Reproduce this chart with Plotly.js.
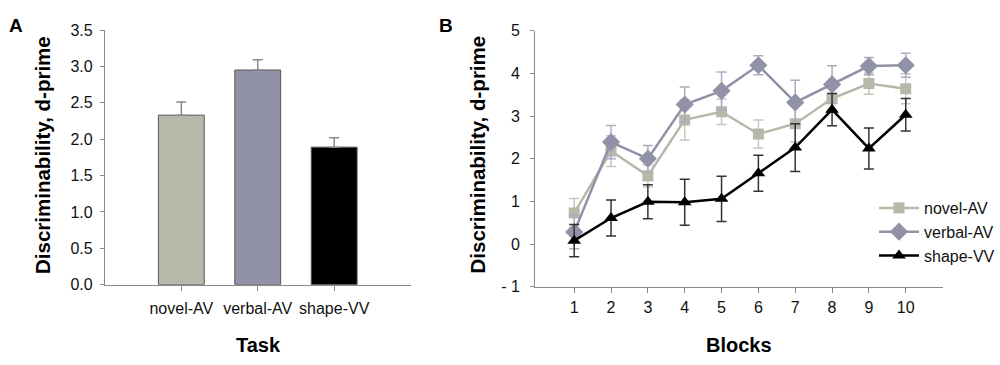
<!DOCTYPE html>
<html>
<head>
<meta charset="utf-8">
<script src="https://cdn.plot.ly/plotly-3.0.1.min.js"></script>
<style>html,body{margin:0;padding:0;background:#fff;}#chart{width:1000px;height:365px;}</style>
</head>
<body>
<div id="chart"></div>
<script>
// ---- Panel A data ----
const tasks = ["novel-AV", "verbal-AV", "shape-VV"];
const taskMeans = [2.33, 2.95, 1.89];
const taskErr = [0.18, 0.14, 0.13];
const taskColors = ["#b7b7aa", "#9191a8", "#000000"];

// ---- Panel B data ----
const blocks = [1, 2, 3, 4, 5, 6, 7, 8, 9, 10];
const novelAV = [0.73, 2.18, 1.60, 2.91, 3.10, 2.58, 2.82, 3.41, 3.76, 3.64];
const novelAVErr = [0.34, 0.36, 0.26, 0.47, 0.30, 0.33, 0.42, 0.12, 0.25, 0.35];
const verbalAV = [0.28, 2.39, 2.00, 3.27, 3.59, 4.19, 3.32, 3.74, 4.17, 4.19];
const verbalAVErr = [0.39, 0.39, 0.31, 0.41, 0.44, 0.22, 0.52, 0.44, 0.20, 0.28];
const shapeVV = [0.08, 0.61, 0.99, 0.98, 1.06, 1.66, 2.26, 3.15, 2.24, 3.03];
const shapeVVErr = [0.38, 0.42, 0.40, 0.54, 0.53, 0.42, 0.56, 0.38, 0.48, 0.38];
const yTicksB = [-1, 0, 1, 2, 3, 4, 5];
const yTickTextB = ["- 1", "0", "1", "2", "3", "4", "5"];

const FONT = "Liberation Sans, Arial, sans-serif";
const AXC = "#8a8a8a";

const traces = [
  {
    type: "bar", x: tasks, y: taskMeans, xaxis: "x", yaxis: "y",
    width: 0.6,
    marker: {color: taskColors, line: {color: "#555555", width: 1}},
    error_y: {type: "data", symmetric: false, array: taskErr, arrayminus: [0, 0, 0],
              color: "#8a8a8a", thickness: 1.5, width: 5},
    showlegend: false, hoverinfo: "x+y"
  },
  {
    type: "scatter", mode: "lines+markers", name: "novel-AV",
    x: blocks, y: novelAV, xaxis: "x2", yaxis: "y2",
    line: {color: "#b7b7aa", width: 2.5},
    marker: {symbol: "square", size: 11, color: "#b7b7aa"},
    error_y: {type: "data", array: novelAVErr, color: "#c6c6bc", thickness: 1.5, width: 5}
  },
  {
    type: "scatter", mode: "lines+markers", name: "verbal-AV",
    x: blocks, y: verbalAV, xaxis: "x2", yaxis: "y2",
    line: {color: "#9191a8", width: 2.5},
    marker: {symbol: "diamond", size: 14, color: "#9191a8"},
    error_y: {type: "data", array: verbalAVErr, color: "#acacc2", thickness: 1.5, width: 5}
  },
  {
    type: "scatter", mode: "lines+markers", name: "shape-VV",
    x: blocks, y: shapeVV, xaxis: "x2", yaxis: "y2",
    line: {color: "#000000", width: 2.5},
    marker: {symbol: "triangle-up", size: 12, color: "#000000"},
    error_y: {type: "data", array: shapeVVErr, color: "#333333", thickness: 1.5, width: 5}
  }
];

const tickFont = {family: FONT, size: 16, color: "#111"};

const layout = {
  width: 1000, height: 365,
  margin: {l: 0, r: 0, t: 0, b: 0},
  paper_bgcolor: "#fff", plot_bgcolor: "#fff",
  font: {family: FONT, color: "#111"},
  xaxis: {
    domain: [0.105, 0.411], type: "category", categoryorder: "array", categoryarray: tasks,
    range: [-1, 3], showline: true, linecolor: AXC, linewidth: 1,
    ticks: "outside", ticklen: 5, tickcolor: AXC, tickfont: tickFont,
    ticklabelstandoff: 4, showgrid: false, zeroline: false, fixedrange: true
  },
  yaxis: {
    domain: [0.22, 0.9178], range: [0, 3.5], dtick: 0.5, tickformat: ".1f",
    showline: true, linecolor: AXC, linewidth: 1,
    ticks: "outside", ticklen: 4, tickcolor: AXC, tickfont: tickFont,
    ticklabelstandoff: 4, showgrid: false, zeroline: false, fixedrange: true
  },
  xaxis2: {
    domain: [0.5357, 0.9435], range: [-0.06, 11], anchor: "y2",
    tickvals: blocks, showline: true, linecolor: AXC, linewidth: 1,
    ticks: "outside", ticklen: 5, tickcolor: AXC, tickfont: tickFont,
    ticklabelstandoff: 1, showgrid: false, zeroline: false, fixedrange: true
  },
  yaxis2: {
    domain: [0.2145, 0.9159], range: [-1, 5], anchor: "x2",
    tickvals: yTicksB, ticktext: yTickTextB,
    showline: true, linecolor: AXC, linewidth: 1,
    ticks: "outside", ticklen: 4, tickcolor: AXC, tickfont: tickFont,
    ticklabelstandoff: 7, showgrid: false, zeroline: false, fixedrange: true
  },
  showlegend: true,
  legend: {
    x: 0.875, y: 0.4767, xanchor: "left", yanchor: "top",
    font: {family: FONT, size: 16, color: "#111"},
    bgcolor: "rgba(0,0,0,0)", tracegroupgap: 0, itemwidth: 40
  },
  annotations: [
    {text: "<b>A</b>", x: 0.007, y: 1 - 25/365, xref: "paper", yref: "paper", xanchor: "left", yanchor: "middle", showarrow: false, font: {family: FONT, size: 19, color: "#000"}},
    {text: "<b>B</b>", x: 0.437, y: 1 - 25/365, xref: "paper", yref: "paper", xanchor: "left", yanchor: "middle", showarrow: false, font: {family: FONT, size: 19, color: "#000"}},
    {text: "<b>Discriminability, d-prime</b>", x: 0.043, y: 1 - 155/365, xref: "paper", yref: "paper", xanchor: "center", yanchor: "middle", textangle: -90, showarrow: false, font: {family: FONT, size: 20.5, color: "#000"}},
    {text: "<b>Discriminability, d-prime</b>", x: 0.478, y: 1 - 155/365, xref: "paper", yref: "paper", xanchor: "center", yanchor: "middle", textangle: -90, showarrow: false, font: {family: FONT, size: 20.5, color: "#000"}},
    {text: "<b>Task</b>", x: 0.259, y: 1 - 345/365, xref: "paper", yref: "paper", xanchor: "center", yanchor: "middle", showarrow: false, font: {family: FONT, size: 20, color: "#000"}},
    {text: "<b>Blocks</b>", x: 0.7396, y: 1 - 345/365, xref: "paper", yref: "paper", xanchor: "center", yanchor: "middle", showarrow: false, font: {family: FONT, size: 20, color: "#000"}}
  ]
};

Plotly.newPlot("chart", traces, layout, {displayModeBar: false, staticPlot: true});
</script>
</body>
</html>
